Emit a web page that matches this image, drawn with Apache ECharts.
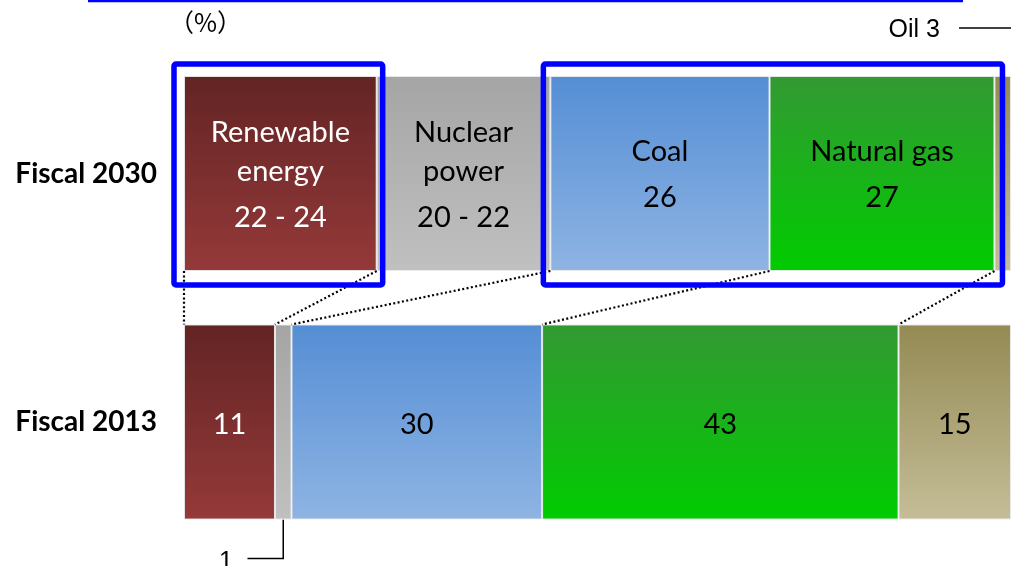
<!DOCTYPE html>
<html>
<head>
<meta charset="utf-8">
<script src="https://cdn.jsdelivr.net/npm/echarts@6/dist/echarts.min.js"></script>
<style>
html,body{margin:0;padding:0;background:#fff;}
#main{width:1011px;height:566px;}
</style>
</head>
<body>
<div id="main"></div>
<script>
// ---- data ----
const categories = ['Fiscal 2013', 'Fiscal 2030'];
const sources = ['Renewable energy', 'Nuclear power', 'Coal', 'Natural gas', 'Oil'];
const share2013 = [11, 2, 30.3, 43.1, 13.6];
const share2030 = [23.3, 21.0, 26.5, 27.2, 2.0];
const labels2013 = ['11', '1', '30', '43', '15'];
const labels2030 = ['22 - 24', '20 - 22', '26', '27', '3'];
const names2030 = ['Renewable\nenergy', 'Nuclear\npower', 'Coal', 'Natural gas', 'Oil'];

// ---- styles ----
const gradients = [
  ['#632424', '#953939'],
  ['#a5a5a5', '#c0c0c0'],
  ['#558ed5', '#8eb4e3'],
  ['#339933', '#00cc00'],
  ['#948a54', '#c4bd97']
];
const textColors = ['#ffffff', '#000000', '#000000', '#000000', '#000000'];
const LABEL_FONT = 'Lato, "Open Sans", sans-serif';
const FS = 29;

const chart = echarts.init(document.getElementById('main'), null, {renderer: 'canvas'});

function grad(c) {
  return new echarts.graphic.LinearGradient(0, 0, 0, 1, [
    {offset: 0, color: c[0]}, {offset: 1, color: c[1]}
  ]);
}

const series = sources.map((name, i) => ({
  name: name,
  type: 'bar',
  stack: 'total',
  barWidth: 195,
  data: [share2013[i], share2030[i]],
  itemStyle: {color: grad(gradients[i]), borderColor: 'rgba(235,235,235,0.9)', borderWidth: 1},
  label: {
    show: true,
    position: 'inside',
    offset: [0, 5],
    color: textColors[i],
    fontFamily: LABEL_FONT,
    fontSize: FS,
    formatter: function (p) {
      if (p.dataIndex === 0) {
        if (i === 1) return '';
        return '{s|' + labels2013[i] + '}';
      }
      if (i === 4) return '';
      const lines = names2030[i].split('\n').map(s => '{n|' + s + '}');
      return lines.join('\n') + '\n{v|' + labels2030[i] + '}';
    },
    rich: {
      n: {fontSize: FS, lineHeight: 39, color: textColors[i], fontFamily: LABEL_FONT},
      v: {fontSize: FS, lineHeight: 53, color: textColors[i], fontFamily: LABEL_FONT},
      s: {fontSize: FS, lineHeight: 36, color: textColors[i], fontFamily: LABEL_FONT, padding: [0, 0, 4, 0]}
    }
  },
  emphasis: {disabled: true},
  animation: false
}));

const option = {
  animation: false,
  grid: {left: 184, width: 830, top: 49.25, height: 497},
  xAxis: {type: 'value', min: 0, max: 100, show: false},
  yAxis: {
    type: 'category',
    data: categories,
    axisLine: {show: false},
    axisTick: {show: false},
    axisLabel: {
      margin: 27, color: '#000', fontWeight: 'bold', fontSize: 28,
      fontFamily: LABEL_FONT
    }
  },
  series: series
};
chart.setOption(option);

// ---- annotations computed from the data through the axes ----
function cum(arr) { const r = [0]; arr.forEach(v => r.push(r[r.length - 1] + v)); return r; }
const c13 = cum(share2013), c30 = cum(share2030);
const px = (x, cat) => chart.convertToPixel({gridIndex: 0}, [x, cat]);
const half = 97.5;
const y30 = px(0, categories[1])[1], y13 = px(0, categories[0])[1];
const b30 = y30 + half, t13 = y13 - half, t30 = y30 - half, b13 = y13 + half;

const g = [];
// dotted connectors
for (let k = 0; k < 5; k++) {
  const xa = px(c30[k], categories[1])[0];
  const xb = px(c13[k], categories[0])[0];
  g.push({type: 'line', shape: {x1: xa, y1: b30, x2: xb, y2: t13},
    style: {stroke: '#000', lineWidth: 2.2, lineDash: [2, 2.4]}, z: 10});
}
// blue highlight boxes
const bx1a = px(c30[0], categories[1])[0] - 10, bx1b = px(c30[1], categories[1])[0] + 6;
const bx2a = px(c30[2], categories[1])[0] - 7, bx2b = px(c30[4], categories[1])[0] + 8;
[[bx1a, bx1b], [bx2a, bx2b]].forEach(([a, b]) => {
  g.push({type: 'rect', shape: {x: a, y: t30 - 12, width: b - a, height: (b30 + 14) - (t30 - 12), r: 2},
    style: {fill: 'none', stroke: '#0000ff', lineWidth: 5.5}, z: 20});
});
// top blue rule
g.push({type: 'line', shape: {x1: 88, y1: 1, x2: 963, y2: 1}, style: {stroke: '#0000ff', lineWidth: 2.5}});
// unit
g.push({type: 'text', left: 169, top: 10, style: {text: '（%）', font: '25px "Noto Sans CJK JP"', fill: '#000'}});
// Oil 3 annotation
g.push({type: 'text', right: 71, top: 18, style: {text: 'Oil ' + labels2030[4], font: '25px "Liberation Sans", Arial, sans-serif', fill: '#000'}});
g.push({type: 'line', shape: {x1: 959, y1: 28, x2: 1011, y2: 28}, style: {stroke: '#000', lineWidth: 1.5}});
// "1" annotation for nuclear 2013
const nx = px(c13[1] + share2013[1] / 2, categories[0])[0];
g.push({type: 'polyline', shape: {points: [[nx, b13], [nx, 558.5], [247.5, 558.5]]}, style: {stroke: '#000', lineWidth: 1.5, fill: 'none'}});
g.push({type: 'text', left: 219, top: 550, style: {text: labels2013[1], font: '25px "Liberation Sans", Arial, sans-serif', fill: '#000'}});

chart.setOption({graphic: g});
</script>
</body>
</html>
